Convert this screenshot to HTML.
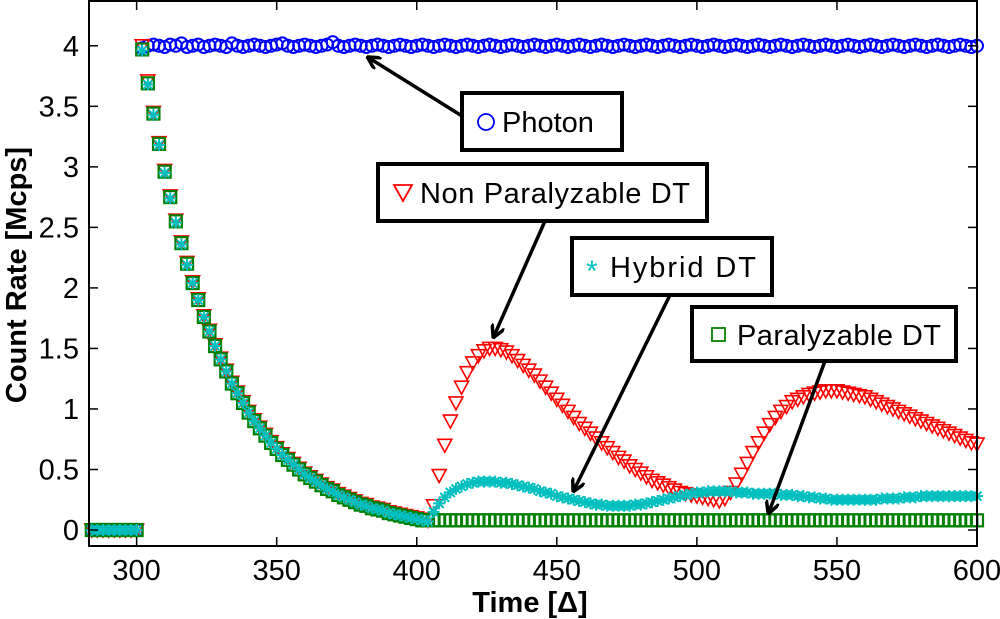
<!DOCTYPE html>
<html><head><meta charset="utf-8"><style>
body{margin:0;background:#fff;}
svg{display:block;font-family:"Liberation Sans",sans-serif;}
</style></head><body>
<svg id="chart" width="1000" height="619" xmlns="http://www.w3.org/2000/svg">
<defs><marker id="ah" markerWidth="14" markerHeight="14" refX="11" refY="7" orient="auto" markerUnits="userSpaceOnUse"><path d="M0,0 L13,7 L0,14" fill="none" stroke="#000" stroke-width="3.5"/></marker></defs>
<g id="marks"></g>
<g id="axes"></g>
<text x="26" y="275" transform="rotate(-90 26 275)" text-anchor="middle" font-size="29" font-weight="bold">Count Rate [Mcps]</text>
<text x="530" y="612" text-anchor="middle" font-size="29" font-weight="bold">Time [Δ]</text>
<g>
<rect x="462" y="93" width="160" height="57" fill="#fff" stroke="#000" stroke-width="4"/>
<circle cx="486" cy="122" r="8" fill="none" stroke="#0000ff" stroke-width="1.8"/>
<text x="502" y="132" font-size="29">Photon</text>
<line x1="462" y1="116" x2="369" y2="58" stroke="#000" stroke-width="3.5" marker-end="url(#ah)"/>
</g>
<g>
<rect x="378" y="164" width="329" height="57" fill="#fff" stroke="#000" stroke-width="4"/>
<path d="M394,185 L412,185 L403,201 Z" fill="none" stroke="#ff0000" stroke-width="1.8"/>
<text x="420" y="203" font-size="29" textLength="270">Non Paralyzable DT</text>
<line x1="545" y1="221" x2="494" y2="336" stroke="#000" stroke-width="3.5" marker-end="url(#ah)"/>
</g>
<g>
<rect x="572" y="238" width="200" height="57" fill="#fff" stroke="#000" stroke-width="4"/>
<text x="586" y="281" font-size="30" fill="#00bfbf">*</text>
<text x="610" y="277" font-size="29" textLength="146">Hybrid DT</text>
<line x1="670" y1="295" x2="574" y2="490" stroke="#000" stroke-width="3.5" marker-end="url(#ah)"/>
</g>
<g>
<rect x="692" y="307" width="264" height="54" fill="#fff" stroke="#000" stroke-width="4"/>
<rect x="712" y="328" width="13" height="13" fill="none" stroke="#008000" stroke-width="1.8"/>
<text x="737" y="345" font-size="29" textLength="204">Paralyzable DT</text>
<line x1="825" y1="361" x2="769" y2="512" stroke="#000" stroke-width="3.5" marker-end="url(#ah)"/>
</g>
</svg>
<script>
const times=[284,286,288,290,292,294,296,298,300,302,304,306,308,310,312,314,316,318,320,322,324,326,328,330,332,334,336,338,340,342,344,346,348,350,352,354,356,358,360,362,364,366,368,370,372,374,376,378,380,382,384,386,388,390,392,394,396,398,400,402,404,406,408,410,412,414,416,418,420,422,424,426,428,430,432,434,436,438,440,442,444,446,448,450,452,454,456,458,460,462,464,466,468,470,472,474,476,478,480,482,484,486,488,490,492,494,496,498,500,502,504,506,508,510,512,514,516,518,520,522,524,526,528,530,532,534,536,538,540,542,544,546,548,550,552,554,556,558,560,562,564,566,568,570,572,574,576,578,580,582,584,586,588,590,592,594,596,598,600];
const photon=[0,0,0,0,0,0,0,0,0,3.98,4.0,4.01,4.0,3.99,4.01,4.0,4.02,3.99,4.0,4.01,3.99,4.0,4.01,4.0,3.99,4.02,4.0,3.99,4.0,4.01,4.0,3.99,4.0,4.01,4.02,4.0,3.99,4.0,4.01,4.0,3.99,4.0,4.01,4.03,4.0,3.99,4.0,4.01,4.0,3.99,4.0,4.01,4.0,3.99,4.0,4.01,4.0,3.99,4.0,4.01,4.0,3.99,4.0,4.01,4.0,3.99,4.0,4.01,4.0,3.99,4.0,4.01,4.0,3.99,4.0,4.01,4.0,3.99,4.0,4.01,4.0,3.99,4.0,4.01,4.0,3.99,4.0,4.01,4.0,3.99,4.0,4.01,4.0,3.99,4.0,4.01,4.0,3.99,4.0,4.01,4.0,3.99,4.0,4.01,4.0,3.99,4.0,4.01,4.0,3.99,4.0,4.01,4.0,3.99,4.0,4.01,4.0,3.99,4.0,4.01,4.0,3.99,4.0,4.01,4.0,3.99,4.0,4.01,4.0,3.99,4.0,4.01,4.0,3.99,4.0,4.01,4.0,3.99,4.0,4.01,4.0,3.99,4.0,4.01,4.0,3.99,4.0,4.01,4.0,3.99,4.0,4.01,4.0,3.99,4.0,4.01,4.0,3.99,4.0,3.98,3.99,3.98,3.97];
const nonParalyzable=[0,0,0,0,0,0,0,0,0,4.0,3.71,3.45,3.2,2.97,2.76,2.56,2.38,2.21,2.05,1.91,1.77,1.65,1.53,1.42,1.32,1.22,1.14,1.06,0.98,0.91,0.85,0.79,0.73,0.68,0.63,0.59,0.55,0.51,0.47,0.44,0.41,0.38,0.35,0.33,0.3,0.28,0.26,0.24,0.22,0.21,0.19,0.18,0.17,0.15,0.14,0.13,0.12,0.11,0.1,0.09,0.08,0.2,0.45,0.7,0.9,1.05,1.18,1.3,1.38,1.44,1.48,1.5,1.5,1.49,1.47,1.44,1.4,1.36,1.32,1.28,1.23,1.18,1.13,1.08,1.03,0.98,0.93,0.88,0.84,0.8,0.76,0.72,0.68,0.64,0.6,0.57,0.53,0.5,0.47,0.44,0.41,0.39,0.37,0.35,0.33,0.31,0.3,0.29,0.28,0.27,0.26,0.25,0.24,0.26,0.31,0.38,0.46,0.55,0.64,0.72,0.8,0.87,0.93,0.98,1.02,1.06,1.08,1.1,1.12,1.13,1.14,1.15,1.15,1.15,1.14,1.13,1.12,1.11,1.1,1.08,1.06,1.04,1.02,1.0,0.98,0.96,0.94,0.92,0.9,0.88,0.86,0.84,0.82,0.8,0.78,0.76,0.74,0.72,0.71,0.7];
const hybrid=[0,0,0,0,0,0,0,0,0,3.96,3.68,3.43,3.18,2.95,2.74,2.54,2.36,2.19,2.04,1.9,1.76,1.64,1.52,1.41,1.31,1.21,1.13,1.05,0.97,0.9,0.84,0.78,0.72,0.67,0.62,0.58,0.54,0.5,0.46,0.43,0.4,0.37,0.34,0.32,0.29,0.27,0.25,0.23,0.21,0.2,0.18,0.17,0.16,0.14,0.13,0.12,0.11,0.1,0.09,0.08,0.07,0.15,0.22,0.27,0.31,0.34,0.36,0.38,0.39,0.4,0.4,0.4,0.4,0.39,0.39,0.38,0.37,0.36,0.35,0.34,0.32,0.31,0.3,0.28,0.27,0.26,0.25,0.24,0.23,0.22,0.21,0.21,0.2,0.2,0.2,0.2,0.2,0.21,0.21,0.22,0.23,0.24,0.25,0.26,0.27,0.28,0.29,0.3,0.31,0.31,0.32,0.32,0.32,0.32,0.32,0.31,0.31,0.31,0.3,0.3,0.3,0.3,0.3,0.29,0.29,0.29,0.28,0.28,0.27,0.27,0.26,0.26,0.25,0.25,0.25,0.25,0.25,0.25,0.25,0.25,0.25,0.26,0.26,0.26,0.26,0.27,0.27,0.27,0.28,0.28,0.28,0.28,0.28,0.28,0.28,0.28,0.28,0.28,0.28];
const paralyzable=[0,0,0,0,0,0,0,0,0,3.97,3.69,3.44,3.19,2.96,2.75,2.55,2.37,2.2,2.04,1.9,1.76,1.64,1.52,1.41,1.31,1.21,1.13,1.05,0.97,0.9,0.84,0.78,0.72,0.67,0.62,0.58,0.54,0.5,0.46,0.43,0.4,0.37,0.34,0.32,0.29,0.27,0.25,0.23,0.21,0.2,0.18,0.17,0.16,0.14,0.13,0.12,0.11,0.1,0.09,0.08,0.08,0.08,0.08,0.08,0.08,0.08,0.08,0.08,0.08,0.08,0.08,0.08,0.08,0.08,0.08,0.08,0.08,0.08,0.08,0.08,0.08,0.08,0.08,0.08,0.08,0.08,0.08,0.08,0.08,0.08,0.08,0.08,0.08,0.08,0.08,0.08,0.08,0.08,0.08,0.08,0.08,0.08,0.08,0.08,0.08,0.08,0.08,0.08,0.08,0.08,0.08,0.08,0.08,0.08,0.08,0.08,0.08,0.08,0.08,0.08,0.08,0.08,0.08,0.08,0.08,0.08,0.08,0.08,0.08,0.08,0.08,0.08,0.08,0.08,0.08,0.08,0.08,0.08,0.08,0.08,0.08,0.08,0.08,0.08,0.08,0.08,0.08,0.08,0.08,0.08,0.08,0.08,0.08,0.08,0.08,0.08,0.08,0.08,0.08,0.08,0.08];
const xTicks=[300,350,400,450,500,550,600];
const yTicks=[0,0.5,1,1.5,2,2.5,3,3.5,4];
const yTickLabels=["0","0.5","1","1.5","2","2.5","3","3.5","4"];

const L=89,R=977,T=1,B=546,XMIN=283,XMAX=600,YMIN=-0.132,YMAX=4.37;
function sx(t){return L+(t-XMIN)/(XMAX-XMIN)*(R-L);}
function sy(v){return B-(v-YMIN)/(YMAX-YMIN)*(B-T);}
const NS="http://www.w3.org/2000/svg";
const marks=document.getElementById('marks'),axes=document.getElementById('axes');
function mk(tag,attrs,parent){const e=document.createElementNS(NS,tag);for(const k in attrs)e.setAttribute(k,attrs[k]);parent.appendChild(e);return e;}

const gP=mk('g',{},marks);


times.forEach((t,i)=>{const c=mk('circle',{cx:sx(t),cy:sy(photon[i]),r:6,fill:'none',stroke:'#0000ff','stroke-width':2},gP);

});
const gR=mk('g',{},marks);


times.forEach((t,i)=>{const x=sx(t),y=sy(nonParalyzable[i]);const p=mk('path',{d:`M${x-7},${y-6} L${x+7},${y-6} L${x},${y+7} Z`,fill:'none',stroke:'#ff0000','stroke-width':1.6},gR);

});
const gG=mk('g',{},marks);


times.forEach((t,i)=>{const x=sx(t),y=sy(paralyzable[i]);const r=mk('rect',{x:x-6,y:y-6,width:12,height:12,fill:'none',stroke:'#008000','stroke-width':2.2},gG);

});
const gC=mk('g',{},marks);


times.forEach((t,i)=>{const x=sx(t),y=sy(hybrid[i]);const p=mk('path',{d:`M${x-6},${y} L${x+6},${y} M${x},${y-6} L${x},${y+6} M${x-4.5},${y-4.5} L${x+4.5},${y+4.5} M${x-4.5},${y+4.5} L${x+4.5},${y-4.5}`,stroke:'#00bfbf','stroke-width':2},gC);

});

const frame=mk('rect',{x:L,y:T,width:R-L,height:B-T,fill:'none',stroke:'#000','stroke-width':2},axes);


xTicks.forEach(t=>{const x=sx(t);mk('line',{x1:x,y1:B,x2:x,y2:B-9,stroke:'#000','stroke-width':1.5},axes);mk('line',{x1:x,y1:T,x2:x,y2:T+9,stroke:'#000','stroke-width':1.5},axes);
const tx=mk('text',{x:x,y:B+34,'text-anchor':'middle','font-size':29},axes);tx.textContent=t;

});
yTicks.forEach((v,i)=>{const y=sy(v);mk('line',{x1:L,y1:y,x2:L+9,y2:y,stroke:'#000','stroke-width':1.5},axes);mk('line',{x1:R,y1:y,x2:R-9,y2:y,stroke:'#000','stroke-width':1.5},axes);
const tx=mk('text',{x:L-10,y:y+10,'text-anchor':'end','font-size':29},axes);tx.textContent=yTickLabels[i];

});
</script>
</body></html>
